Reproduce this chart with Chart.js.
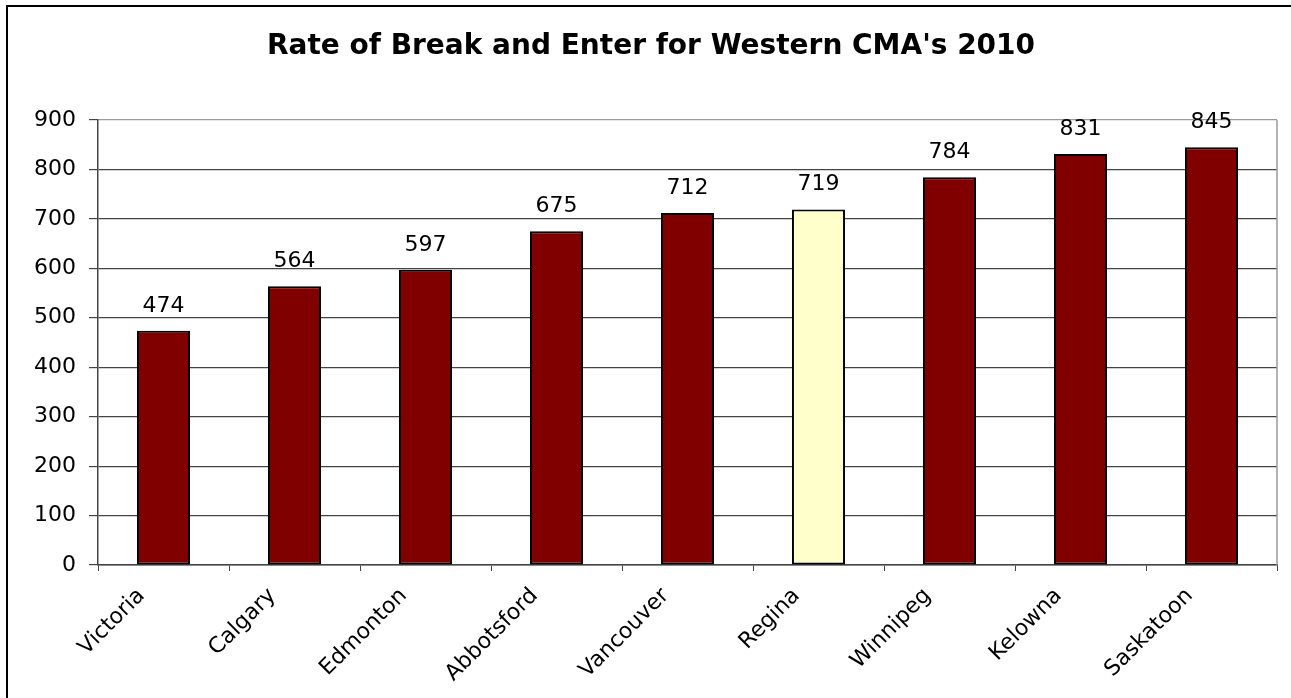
<!DOCTYPE html>
<html>
<head>
<meta charset="utf-8">
<title>Rate of Break and Enter for Western CMA's 2010</title>
<script src="https://cdn.jsdelivr.net/npm/chart.js@4.4.1/dist/chart.umd.min.js"></script>
<style>
  html, body { margin: 0; padding: 0; background: #fff; overflow: hidden; }
  #wrap { position: relative; width: 1291px; height: 698px; }
  #frame {
    position: absolute; left: 6px; top: 5px; width: 1400px; height: 800px;
    border-left: 2px solid #000; border-top: 2px solid #000;
    pointer-events: none;
  }
</style>
</head>
<body>
<div id="wrap">
  <canvas id="chart" width="1291" height="698"></canvas>
  <div id="frame"></div>
</div>
<script>
'use strict';

// ── Data ──────────────────────────────────────────────────────
const cities = ['Victoria', 'Calgary', 'Edmonton', 'Abbotsford', 'Vancouver',
                'Regina', 'Winnipeg', 'Kelowna', 'Saskatoon'];
const rates  = [474, 564, 597, 675, 712, 719, 784, 831, 845];
const highlightCity = 'Regina';
const yTicks = [0, 100, 200, 300, 400, 500, 600, 700, 800, 900];

const BAR_COLOR  = '#800000';
const HIGH_COLOR = '#FFFFCC';
const FONT = 'DejaVu Sans';

// ── Plugins ───────────────────────────────────────────────────
// value labels above each bar
const valueLabels = {
  id: 'valueLabels',
  afterDatasetsDraw(chart) {
    const { ctx } = chart;
    const meta = chart.getDatasetMeta(0);
    ctx.save();
    ctx.font = `22px "${FONT}"`;
    ctx.fillStyle = '#000';
    ctx.textAlign = 'center';
    ctx.textBaseline = 'alphabetic';
    meta.data.forEach((bar, i) => {
      ctx.fillText(String(rates[i]), bar.x, bar.y - 19);
    });
    ctx.restore();
  },
};

// gray right edge of the plot area
const plotEdge = {
  id: 'plotEdge',
  beforeDatasetsDraw(chart) {
    const { ctx, chartArea: a } = chart;
    ctx.save();
    ctx.strokeStyle = '#9a9a9a';
    ctx.lineWidth = 1.5;
    ctx.beginPath();
    ctx.moveTo(a.right, a.top);
    ctx.lineTo(a.right, a.bottom);
    ctx.stroke();
    ctx.restore();
  },
};

// ── Chart ─────────────────────────────────────────────────────
const ctx = document.getElementById('chart').getContext('2d');

new Chart(ctx, {
  type: 'bar',
  data: {
    labels: cities,
    datasets: [{
      data: rates,
      backgroundColor: cities.map(c => c === highlightCity ? HIGH_COLOR : BAR_COLOR),
      borderColor: '#000',
      borderWidth: 2,
      borderSkipped: false,
      barPercentage: 0.405,
      categoryPercentage: 1,
    }],
  },
  options: {
    responsive: false,
    animation: false,
    devicePixelRatio: 1,
    // left padding nudges the centred title to the right, as in the original
    layout: { padding: { left: 11, right: 0, top: 0, bottom: 0 } },
    plugins: {
      legend: { display: false },
      tooltip: { enabled: false },
      title: {
        display: true,
        text: "Rate of Break and Enter for Western CMA's 2010",
        color: '#000',
        font: { family: FONT, size: 28, weight: 'bold' },
        padding: { top: 30, bottom: 56.4 },
      },
    },
    scales: {
      x: {
        afterFit: s => { s.height = 133; },
        grid: {
          display: true,
          drawOnChartArea: false,
          drawTicks: true,
          tickLength: 6,
          tickColor: '#444',
          offset: true,
        },
        border: { display: true, color: '#444', width: 1.5 },
        ticks: {
          color: '#000',
          font: { family: FONT, size: 22 },
          minRotation: 45,
          maxRotation: 45,
          padding: 12,
          labelOffset: -22,
        },
      },
      y: {
        min: 0,
        max: 900,
        afterFit: s => { s.width = 87; },
        afterBuildTicks: s => { s.ticks = yTicks.map(v => ({ value: v })); },
        grid: {
          color: ctx => ctx.tick && ctx.tick.value === 900 ? '#9a9a9a' : '#444',
          lineWidth: 1.2,
          tickLength: 9,
          tickColor: '#444',
        },
        border: { display: true, color: '#444', width: 1.5 },
        ticks: {
          color: '#000',
          font: { family: FONT, size: 22 },
          padding: 13,
        },
      },
      // empty right-hand spacer so the plot stops short of the edge
      yRight: {
        position: 'right',
        min: 0,
        max: 900,
        afterFit: s => { s.width = 14; },
        grid: { display: false },
        border: { display: false },
        ticks: { display: false },
      },
    },
  },
  plugins: [valueLabels, plotEdge],
});
</script>
</body>
</html>
